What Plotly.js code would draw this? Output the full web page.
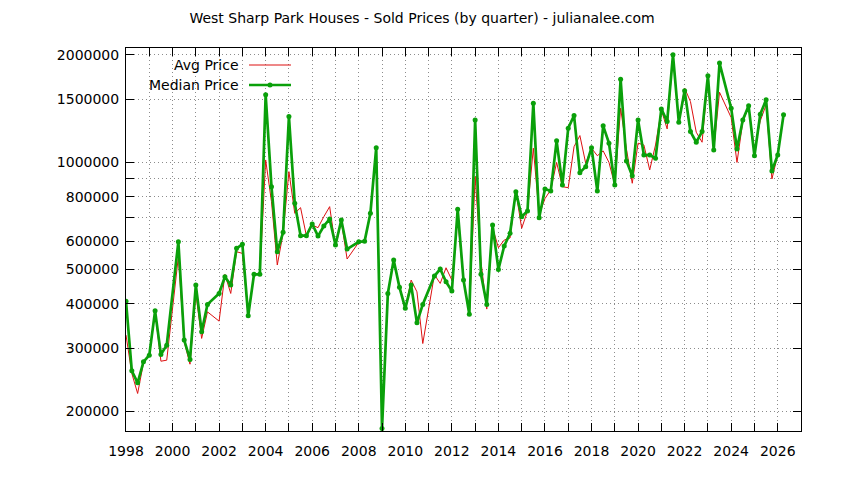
<!DOCTYPE html>
<html>
<head>
<meta charset="utf-8">
<script src="https://cdn.plot.ly/plotly-3.0.1.min.js"></script>
<style>
html,body{margin:0;padding:0;background:#fff;}
#chart{width:844px;height:480px;}
</style>
</head>
<body>
<div id="chart"></div>
<script>
// Quarter start times (decimal year); quarters without sales are absent
const quarterT = [
1998.00,1998.25,1998.50,1998.75,1999.00,1999.25,1999.50,1999.75,
2000.25,2000.50,2000.75,2001.00,2001.25,2001.50,
2002.00,2002.25,2002.50,2002.75,2003.00,2003.25,2003.50,2003.75,
2004.00,2004.25,2004.50,2004.75,2005.00,2005.25,2005.50,2005.75,
2006.00,2006.25,2006.50,2006.75,2007.00,2007.25,2007.50,
2008.00,2008.25,2008.50,2008.75,2009.00,2009.25,2009.50,2009.75,
2010.00,2010.25,2010.50,2010.75,2011.25,2011.50,2011.75,
2012.00,2012.25,2012.50,2012.75,2013.00,2013.25,2013.50,2013.75,
2014.00,2014.25,2014.50,2014.75,2015.00,2015.25,2015.50,2015.75,
2016.00,2016.25,2016.50,2016.75,2017.00,2017.25,2017.50,2017.75,
2018.00,2018.25,2018.50,2018.75,2019.00,2019.25,2019.50,2019.75,
2020.00,2020.25,2020.50,2020.75,2021.00,2021.25,2021.50,2021.75,
2022.00,2022.25,2022.50,2022.75,2023.00,2023.25,2023.50,
2024.00,2024.25,2024.50,2024.75,2025.00,2025.25,2025.50,2025.75,
2026.00,2026.25
];

const medianPrice = [
407000,259600,240200,275100,287300,382600,288600,306500,
597800,316600,279400,451800,334100,398800,
428000,476800,451800,572800,587900,370500,484200,484200,
1544000,853000,560300,635300,1342000,766200,621500,621500,
670400,620000,661800,692300,585200,687900,570300,
597800,599300,718300,1098000,178800,428000,531200,445200,
388700,451800,354000,398800,479000,501200,461500,
434500,737200,466700,373900,1313000,484200,398800,666100,
500000,581500,631300,826100,702900,729000,1463000,698300,
840600,829800,1147000,862600,1245000,1351000,934200,971000,
1098000,829800,1264000,1130000,862600,1709000,1007000,916200,
1313000,1047000,1047000,1025000,1410000,1299000,2000000,1294000,
1585000,1218000,1137000,1218000,1746000,1082000,1896000,
1417000,1089000,1313000,1438000,1042000,1363000,1495000,944600,
1047000,1357000
];

const avgPrice = [
327000,255300,224300,273000,287000,380000,276300,278100,
542600,313000,271000,428000,320100,380000,
357900,484200,428000,560300,554600,370500,483000,484200,
1014000,774400,514300,632000,940300,718300,745000,621500,
666100,654600,702900,749900,578900,680300,534600,
595500,597800,718300,1094000,178800,428000,531200,445200,
388700,466700,432600,309700,483000,456700,505300,
466700,695600,466700,373900,910300,525400,386900,654600,
575200,604300,612500,826100,652000,729000,1094000,710600,
790000,836000,998000,853000,847600,1105000,1187000,992700,
1094000,1042000,1075000,998000,862600,1417000,1089000,872100,
1130000,1117000,950600,1117000,1400000,1239000,2000000,1294000,
1613000,1479000,1213000,1137000,1720000,1082000,1570000,
1333000,998000,1299000,1430000,1082000,1306000,1447000,896800,
1047000,1357000
];

const xTickVals = [];
const xTickText = [];
for (let y = 1998; y <= 2027; y++) { xTickVals.push(y); xTickText.push(y % 2 === 0 ? String(y) : ""); }

const yTickVals = [200000,300000,400000,500000,600000,700000,800000,900000,1000000,1500000,2000000];
const yTickText = ["200000","300000","400000","500000","600000","","800000","","1000000","1500000","2000000"];

const seriesNames = ["Avg Price", "Median Price"];
const avgColor = "#dd1010";
const medColor = "#0aa00a";
const FONT = "DejaVu Sans, sans-serif";
const FS = 14;

const traces = [
  {x: quarterT, y: avgPrice, type: "scatter", mode: "lines", name: seriesNames[0],
   line: {color: avgColor, width: 1}, hoverinfo: "x+y"},
  {x: quarterT, y: medianPrice, type: "scatter", mode: "lines+markers", name: seriesNames[1],
   line: {color: medColor, width: 2.7}, marker: {color: medColor, size: 5, symbol: "circle"}, hoverinfo: "x+y"}
];

// plot area in pixels: left 126, right 801, top 48, bottom 431
const L = 126, R = 801, T = 48, B = 431;
const px = v => (v - L) / (R - L);
const py = v => (B - v) / (B - T);

const gridStyle = {showgrid: true, gridcolor: "#8c8c8c", griddash: "1px,3px", gridwidth: 1};

const layout = {
  width: 844, height: 480,
  margin: {l: L, r: 844 - R, t: T, b: 480 - B, pad: 0},
  paper_bgcolor: "#fff", plot_bgcolor: "#fff",
  showlegend: false,
  font: {family: FONT, size: FS, color: "#000"},
  title: {text: "West Sharp Park Houses - Sold Prices (by quarter) - julianalee.com",
          font: {family: FONT, size: FS, color: "#000"}, x: 0.5, xanchor: "center", y: 0.962, yanchor: "middle"},
  xaxis: Object.assign({
    type: "linear", range: [1998, 2027], tickmode: "array", tickvals: xTickVals, ticktext: xTickText,
    ticks: "inside", ticklen: 8, tickwidth: 1, tickcolor: "#000", ticklabelstandoff: 7,
    showline: true, linecolor: "#000", linewidth: 1, mirror: "ticks",
    zeroline: false, tickfont: {family: FONT, size: FS, color: "#000"}
  }, gridStyle),
  yaxis: Object.assign({
    type: "log", range: [Math.log10(176000), Math.log10(2090000)],
    tickmode: "array", tickvals: yTickVals, ticktext: yTickText,
    ticks: "inside", ticklen: 8, tickwidth: 1, tickcolor: "#000", ticklabelstandoff: 3,
    showline: true, linecolor: "#000", linewidth: 1, mirror: "ticks",
    zeroline: false, tickfont: {family: FONT, size: FS, color: "#000"}
  }, gridStyle),
  annotations: [
    {xref: "paper", yref: "paper", x: px(241), y: py(65), xanchor: "right", yanchor: "middle",
     text: seriesNames[0], showarrow: false, font: {family: FONT, size: FS, color: "#000"}},
    {xref: "paper", yref: "paper", x: px(241), y: py(85), xanchor: "right", yanchor: "middle",
     text: seriesNames[1], showarrow: false, font: {family: FONT, size: FS, color: "#000"}}
  ],
  shapes: [
    {type: "line", xref: "paper", yref: "paper", x0: px(249), x1: px(291), y0: py(65), y1: py(65),
     line: {color: avgColor, width: 1}},
    {type: "line", xref: "paper", yref: "paper", x0: px(249), x1: px(291), y0: py(85), y1: py(85),
     line: {color: medColor, width: 2.7}},
    {type: "circle", xref: "paper", yref: "paper", x0: px(267.5), x1: px(272.5), y0: py(82.5), y1: py(87.5),
     fillcolor: medColor, line: {color: medColor, width: 0}}
  ]
};

Plotly.newPlot("chart", traces, layout, {displayModeBar: false, staticPlot: true});
</script>
</body>
</html>
